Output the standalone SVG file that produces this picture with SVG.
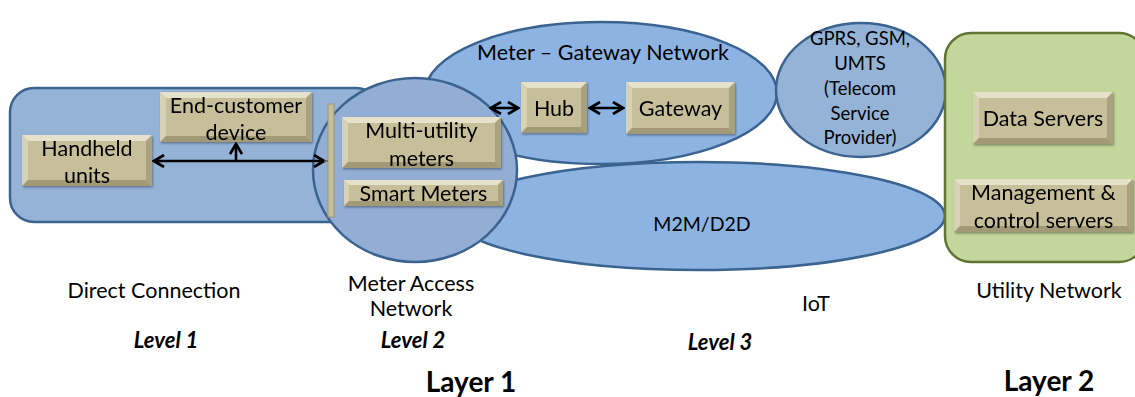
<svg xmlns="http://www.w3.org/2000/svg" width="1135" height="397" viewBox="0 0 1135 397">
  <defs>
    <style>
      text { font-family: Lato, "Liberation Sans", sans-serif; fill: #000; }
      .lbl { font-size: 21.5px; text-anchor: middle; }
      .box-t { font-size: 21.5px; text-anchor: middle; }
      .small { font-size: 18.5px; text-anchor: middle; }
      .mid { font-size: 19.5px; text-anchor: middle; }
      .lvl { font-size: 22px; font-weight: bold; font-style: italic; text-anchor: middle; }
      .layer { font-size: 28px; font-weight: bold; text-anchor: middle; }
      .zone { stroke: #3a6390; stroke-width: 2.5; }
      .face { fill: #c6bf99; }
      .bt { fill: #e6e1cb; }
      .bl { fill: #d8d2b4; }
      .br { fill: #aaa27e; }
      .bb { fill: #a29a76; }
      .arrow { fill: none; stroke: #000; stroke-width: 2.6; marker-start: url(#head); marker-end: url(#head); }
    </style>
    <marker id="head" viewBox="0 0 10 10" refX="8.5" refY="5" markerWidth="5.5" markerHeight="5.5" orient="auto-start-reverse" markerUnits="strokeWidth">
      <path d="M1.5,0.8 L8.5,5 L1.5,9.2" fill="none" stroke="#000" stroke-width="1.9"/>
    </marker>
    <filter id="shadow" x="-10%" y="-10%" width="120%" height="130%">
      <feDropShadow dx="1" dy="1.5" stdDeviation="1" flood-color="#000" flood-opacity="0.35"/>
    </filter>
  </defs>

  <!-- network zones -->
  <g id="direct-connection">
    <rect class="zone" x="10" y="88" width="370" height="134" rx="24" fill="#95b3d7"/>
  </g>
  <g id="meter-gateway-network">
    <ellipse class="zone" cx="601" cy="93" rx="176" ry="71" fill="#8db3e2"/>
    <text class="lbl" x="603" y="60">Meter – Gateway Network</text>
  </g>
  <g id="m2m">
    <ellipse class="zone" cx="699" cy="216" rx="246" ry="54" fill="#8db3e2"/>
    <text class="mid" x="702" y="231">M2M/D2D</text>
  </g>
  <g id="telecom">
    <ellipse class="zone" cx="861" cy="90" rx="85" ry="67" fill="#95b3d7"/>
    <text class="small" x="860" y="45">GPRS, GSM,</text>
    <text class="small" x="860" y="70">UMTS</text>
    <text class="small" x="860" y="95">(Telecom</text>
    <text class="small" x="860" y="120">Service</text>
    <text class="small" x="860" y="144">Provider)</text>
  </g>
  <g id="utility-network">
    <rect x="945" y="33" width="200" height="229" rx="26" fill="#c3d69b" stroke="#5f7530" stroke-width="2.5"/>
  </g>
  <g id="meter-access-network">
    <ellipse class="zone" cx="415" cy="170" rx="102" ry="92" fill="#93aed4"/>
  </g>

  <!-- bus bar -->
  <g id="bus">
    <rect x="328" y="104" width="6" height="113" fill="#c6bf99" stroke="#9d9572" stroke-width="1"/>
  </g>

  <!-- devices -->
  <g id="handheld" transform="translate(22,135)" filter="url(#shadow)">
    <rect class="face" width="130" height="51"/>
    <polygon class="bt" points="0,0 130,0 124,6 6,6"/>
    <polygon class="bl" points="0,0 6,6 6,45 0,51"/>
    <polygon class="br" points="130,0 130,51 124,45 124,6"/>
    <polygon class="bb" points="0,51 6,45 124,45 130,51"/>
    <text class="box-t" x="65" y="21">Handheld</text>
    <text class="box-t" x="65" y="48">units</text>
  </g>
  <g id="end-customer" transform="translate(160,92)" filter="url(#shadow)">
    <rect class="face" width="152" height="50"/>
    <polygon class="bt" points="0,0 152,0 146,6 6,6"/>
    <polygon class="bl" points="0,0 6,6 6,44 0,50"/>
    <polygon class="br" points="152,0 152,50 146,44 146,6"/>
    <polygon class="bb" points="0,50 6,44 146,44 152,50"/>
    <text class="box-t" x="76" y="21">End-customer</text>
    <text class="box-t" x="76" y="48">device</text>
  </g>
  <g id="multi-utility" transform="translate(342,117)" filter="url(#shadow)">
    <rect class="face" width="159" height="51"/>
    <polygon class="bt" points="0,0 159,0 153,6 6,6"/>
    <polygon class="bl" points="0,0 6,6 6,45 0,51"/>
    <polygon class="br" points="159,0 159,51 153,45 153,6"/>
    <polygon class="bb" points="0,51 6,45 153,45 159,51"/>
    <text class="box-t" x="79.5" y="21">Multi-utility</text>
    <text class="box-t" x="79.5" y="49">meters</text>
  </g>
  <g id="smart-meters" transform="translate(344,180)" filter="url(#shadow)">
    <rect class="face" width="159" height="26"/>
    <polygon class="bt" points="0,0 159,0 154,5 5,5"/>
    <polygon class="bl" points="0,0 5,5 5,21 0,26"/>
    <polygon class="br" points="159,0 159,26 154,21 154,5"/>
    <polygon class="bb" points="0,26 5,21 154,21 159,26"/>
    <text class="box-t" x="79.5" y="21">Smart Meters</text>
  </g>
  <g id="hub" transform="translate(521,82)" filter="url(#shadow)">
    <rect class="face" width="66" height="51"/>
    <polygon class="bt" points="0,0 66,0 60,6 6,6"/>
    <polygon class="bl" points="0,0 6,6 6,45 0,51"/>
    <polygon class="br" points="66,0 66,51 60,45 60,6"/>
    <polygon class="bb" points="0,51 6,45 60,45 66,51"/>
    <text class="box-t" x="33" y="34">Hub</text>
  </g>
  <g id="gateway" transform="translate(626,82)" filter="url(#shadow)">
    <rect class="face" width="109" height="52"/>
    <polygon class="bt" points="0,0 109,0 103,6 6,6"/>
    <polygon class="bl" points="0,0 6,6 6,46 0,52"/>
    <polygon class="br" points="109,0 109,52 103,46 103,6"/>
    <polygon class="bb" points="0,52 6,46 103,46 109,52"/>
    <text class="box-t" x="54.5" y="34">Gateway</text>
  </g>
  <g id="data-servers" transform="translate(973,92)" filter="url(#shadow)">
    <rect class="face" width="140" height="52"/>
    <polygon class="bt" points="0,0 140,0 134,6 6,6"/>
    <polygon class="bl" points="0,0 6,6 6,46 0,52"/>
    <polygon class="br" points="140,0 140,52 134,46 134,6"/>
    <polygon class="bb" points="0,52 6,46 134,46 140,52"/>
    <text class="box-t" x="70" y="34">Data Servers</text>
  </g>
  <g id="management-servers" transform="translate(954,179)" filter="url(#shadow)">
    <rect class="face" width="179" height="53"/>
    <polygon class="bt" points="0,0 179,0 173,6 6,6"/>
    <polygon class="bl" points="0,0 6,6 6,47 0,53"/>
    <polygon class="br" points="179,0 179,53 173,47 173,6"/>
    <polygon class="bb" points="0,53 6,47 173,47 179,53"/>
    <text class="box-t" x="89.5" y="21">Management &amp;</text>
    <text class="box-t" x="89.5" y="49">control servers</text>
  </g>

  <!-- connectors -->
  <g id="connectors">
    <line class="arrow" x1="154" y1="161" x2="324" y2="161"/>
    <line x1="324" y1="161" x2="328" y2="161" stroke="#6b6650" stroke-width="1.5"/>
    <line x1="236" y1="161" x2="236" y2="144" fill="none" stroke="#000" stroke-width="2.6" marker-end="url(#head)"/>
    <line class="arrow" x1="491" y1="108" x2="518" y2="108"/>
    <line class="arrow" x1="590" y1="108" x2="623" y2="108"/>
  </g>

  <!-- captions -->
  <g id="captions">
    <text class="lbl" x="154" y="298">Direct Connection</text>
    <text class="lbl" x="411" y="291">Meter Access</text>
    <text class="lbl" x="411" y="316">Network</text>
    <text class="lbl" x="816" y="311">IoT</text>
    <text class="lbl" x="1049" y="298">Utility Network</text>
    <text class="lvl" x="166" y="348">Level 1</text>
    <text class="lvl" x="413" y="348">Level 2</text>
    <text class="lvl" x="720" y="350">Level 3</text>
    <text class="layer" x="471" y="392">Layer 1</text>
    <text class="layer" x="1049" y="391">Layer 2</text>
  </g>
</svg>
